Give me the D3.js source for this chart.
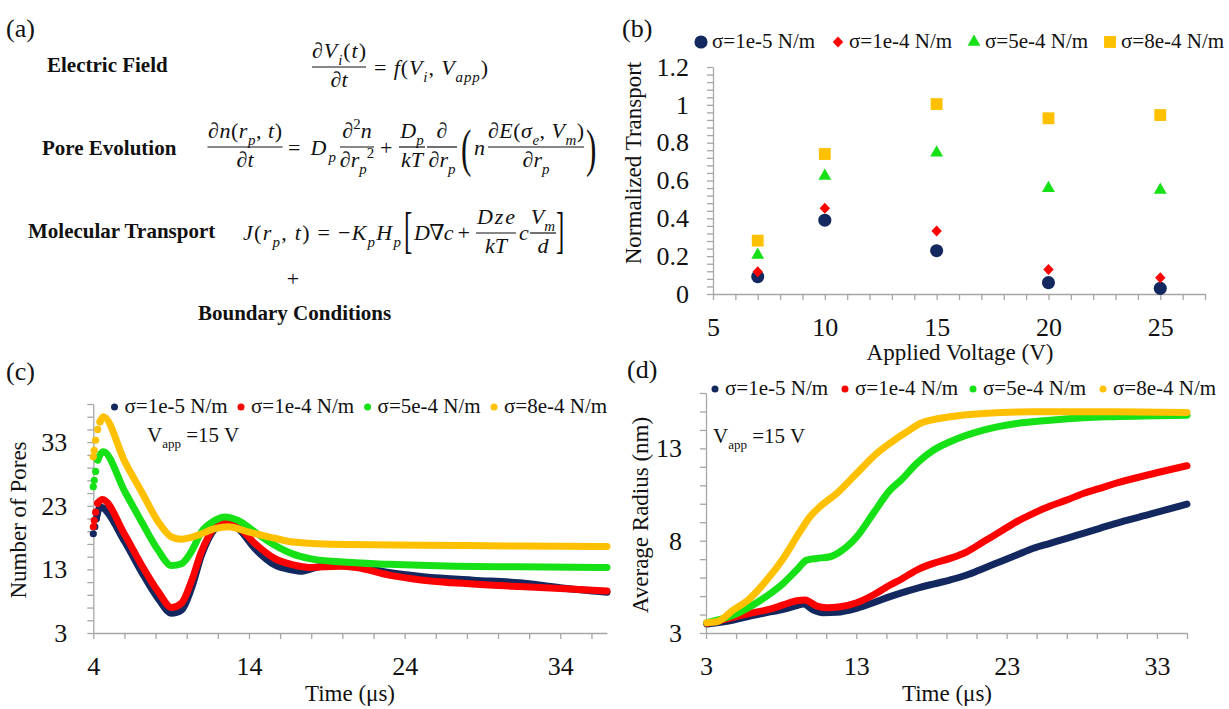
<!DOCTYPE html>
<html lang="en">
<head>
<meta charset="utf-8">
<title>Electroporation model</title>
<script src="https://cdnjs.cloudflare.com/ajax/libs/d3/7.8.5/d3.min.js"></script>
<style>
  body { margin: 0; background: #fff; }
  svg, svg text { font-family: "Liberation Serif", "DejaVu Serif", serif; fill: #111; }
  .axis path, .axis line { stroke: #a6a6a6; stroke-width: 1.3; }
  .axis text { font-size: 26px; fill: #111; }
</style>
</head>
<body>
<svg id="fig" width="1229" height="709" font-family="Liberation Serif, DejaVu Serif, serif"></svg>
<script>
// ---------- data ----------
const sigmaLabels = ["σ=1e-5 N/m", "σ=1e-4 N/m", "σ=5e-4 N/m", "σ=8e-4 N/m"];
const colors = ["#13285f", "#ff0000", "#16e016", "#ffc000"];

// (b) normalized transport vs applied voltage
const voltages = [7, 10, 15, 20, 25];
const transport1e5 = [0.092, 0.39, 0.229, 0.06, 0.03];
const transport1e4 = [0.118, 0.453, 0.333, 0.13, 0.086];
const transport5e4 = [0.206, 0.624, 0.747, 0.559, 0.55];
const transport8e4 = [0.282, 0.74, 1.004, 0.929, 0.946];
const bXTicks = [5, 10, 15, 20, 25];
const bYTicks = [0, 0.2, 0.4, 0.6, 0.8, 1, 1.2];

// (c) number of pores vs time [t (us), n]
const pores1e5 = [[4.0,18.6],[4.1,19.7],[4.2,21.0],[4.43,22.8],[6.03,17.3],[7.1,12.6],[8.17,8.4],[9.03,6.1],[9.67,6.6],[10.3,10.0],[10.95,15.2],[11.81,19.4],[12.35,20.2],[13.3,19.4],[14.37,16.3],[15.66,13.7],[16.8,12.9],[17.3,12.7],[18.3,13.3],[19.8,14.0],[20.9,13.5],[23.0,12.5],[25.2,11.85],[28.4,11.3],[31.4,10.9],[34,10.1],[37,9.4]];
const pores1e4 = [[4.0,19.7],[4.06,20.7],[4.15,22.0],[4.28,23.4],[4.58,24.0],[6.03,18.4],[7.1,13.7],[8.17,9.5],[9.03,7.0],[9.67,7.7],[10.3,11.1],[10.95,15.8],[11.81,19.7],[12.35,20.5],[13.3,19.7],[14.37,17.1],[15.66,14.7],[16.84,13.7],[17.9,13.3],[19.8,13.5],[20.9,13.3],[23.0,12.1],[25.2,11.3],[28.4,10.7],[31.4,10.3],[34,10.0],[37,9.6]];
const pores5e4 = [[4.0,26.0],[4.06,27.0],[4.15,28.4],[4.28,30.2],[4.64,31.5],[6.03,25.2],[7.1,20.5],[8.17,16.0],[9.03,13.6],[9.67,13.9],[10.3,15.8],[10.95,18.9],[11.81,20.7],[12.45,21.25],[13.3,20.7],[14.37,18.9],[15.66,16.8],[16.84,15.4],[17.9,14.7],[19.8,14.2],[23.0,13.8],[27.3,13.5],[31.4,13.4],[37,13.3]];
const pores8e4 = [[4.0,30.7],[4.06,31.7],[4.15,33.3],[4.28,35.0],[4.43,36.2],[4.64,37.0],[6.03,29.9],[7.1,25.2],[8.17,20.5],[9.03,18.1],[9.67,17.75],[10.74,18.4],[11.81,19.4],[12.67,19.7],[13.95,18.9],[15.66,17.9],[16.84,17.3],[20.26,16.9],[25.2,16.8],[31.4,16.66],[37,16.6]];
const poresLead = [3, 4, 4, 5];   // leading samples drawn as separate dots
const cXTicks = [4, 14, 24, 34];
const cYTicks = [3, 13, 23, 33];

// (d) average radius vs time [t (us), r (nm)]
const radius1e5 = [[3.05,3.49],[4.82,3.7],[5.93,3.92],[7.04,4.1],[8.14,4.28],[9.03,4.48],[9.48,4.57],[10.14,4.25],[10.8,4.1],[11.7,4.12],[13.03,4.34],[14.13,4.64],[15.24,4.97],[15.9,5.15],[17.02,5.42],[18.12,5.65],[19.23,5.87],[20.35,6.14],[21.45,6.5],[22.56,6.86],[23.67,7.22],[24.78,7.59],[25.89,7.86],[27.0,8.13],[28.1,8.4],[29.2,8.67],[30.1,8.9],[32.6,9.45],[35,9.98]];
const radius1e4 = [[3.05,3.52],[4.82,3.85],[5.93,4.07],[7.04,4.25],[8.14,4.52],[9.03,4.75],[9.59,4.79],[10.36,4.46],[11.03,4.37],[11.92,4.42],[13.03,4.64],[14.13,5.06],[15.24,5.6],[15.9,5.87],[17.02,6.41],[18.12,6.77],[19.23,7.04],[20.35,7.4],[21.45,7.94],[22.56,8.48],[23.67,9.03],[24.78,9.48],[25.89,9.88],[27.0,10.2],[28.1,10.56],[29.2,10.83],[30.1,11.07],[32.6,11.6],[35,12.06]];
const radius5e4 = [[3.05,3.56],[4.82,3.97],[5.93,4.43],[7.04,5.0],[8.14,5.69],[9.03,6.41],[9.7,6.95],[10.36,7.04],[11.25,7.13],[11.92,7.4],[13.03,8.21],[14.13,9.48],[15.24,10.74],[16.0,11.3],[17.02,12.19],[18.12,12.9],[19.23,13.36],[21.45,13.99],[23.67,14.35],[25.89,14.53],[28.1,14.66],[30.1,14.72],[35,14.8]];
const radius8e4 = [[3.05,3.56],[3.71,3.61],[4.82,4.25],[5.93,4.88],[7.04,5.87],[8.14,7.04],[9.25,8.49],[9.92,9.3],[10.58,9.84],[11.7,10.56],[13.03,11.65],[14.36,12.73],[15.69,13.54],[16.46,13.95],[17.24,14.35],[19.23,14.71],[21.45,14.89],[24.78,14.98],[30.1,14.98],[35,14.95]];
const dXTicks = [3, 13, 23, 33];
const dYTicks = [3, 8, 13];

const SERIF = "'Liberation Serif', 'DejaVu Serif', serif";
const svg = d3.select("#fig");

// ---------- helpers ----------
// tiny math text: _{..} subscript, ^{..} superscript, letters italic
function mathText(g, x, y, src, size, anchor, width) {
  const t = g.append("text").attr("x", x).attr("y", y).style("font-family", SERIF)
    .attr("font-size", size).attr("text-anchor", anchor || "start");
  if (width) t.attr("textLength", width).attr("lengthAdjust", "spacing");
  const toks = [];
  let i = 0;
  while (i < src.length) {
    const c = src[i];
    if ((c === "_" || c === "^") && src[i + 1] === "{") {
      const end = src.indexOf("}", i);
      toks.push({ s: src.slice(i + 2, end), lvl: c === "_" ? 1 : -1 });
      i = end + 1;
    } else {
      toks.push({ s: c, lvl: 0 });
      i++;
    }
  }
  let cur = 0;
  toks.forEach(tk => {
    for (const ch of tk.s) {
      const off = tk.lvl === 1 ? size * 0.3 : tk.lvl === -1 ? -size * 0.4 : 0;
      const sp = t.append("tspan").text(ch)
        .attr("font-size", tk.lvl ? size * 0.68 : size)
        .attr("font-style", /[A-Za-zσ]/.test(ch) ? "italic" : "normal");
      if (off !== cur) { sp.attr("dy", off - cur); cur = off; }
    }
  });
  return t;
}

function frac(g, cx, barY, w, num, den, numW) {
  g.append("line").attr("x1", cx - w / 2).attr("x2", cx + w / 2)
    .attr("y1", barY).attr("y2", barY).attr("stroke", "#111").attr("stroke-width", 1.2);
  mathText(g, cx, barY - 9, num, 22, "middle", numW);
  mathText(g, cx, barY + 20, den, 22, "middle");
}

function bigGlyph(g, ch, x, y, size, sx) {
  g.append("text").attr("transform", `translate(${x},${y}) scale(${sx},1)`)
    .style("font-family", SERIF).attr("font-size", size).text(ch);
}

function panelLabel(txt, x, y) {
  svg.append("text").attr("x", x).attr("y", y).style("font-family", SERIF).attr("font-size", 26).text(txt);
}

function axisTitle(txt, x, y, rotate) {
  svg.append("text").attr("text-anchor", "middle").attr("font-size", 23).style("font-family", SERIF)
    .attr("transform", `translate(${x},${y})` + (rotate ? " rotate(-90)" : ""))
    .text(txt);
}

function drawAxes(x, y, xMinor, xMajor, yMinor, yMajor, pad, fmt) {
  const fx = d => xMajor.includes(d) ? d : "";
  const fy = d => yMajor.includes(d) ? (fmt ? fmt(d) : d) : "";
  const gx = svg.append("g").attr("class", "axis").attr("transform", `translate(0,${y.range()[0]})`)
    .call(d3.axisBottom(x).tickValues(xMinor).tickFormat(fx).tickSize(6).tickSizeOuter(0).tickPadding(18));
  const gy = svg.append("g").attr("class", "axis").attr("transform", `translate(${x.range()[0]},0)`)
    .call(d3.axisLeft(y).tickValues(yMinor).tickFormat(fy).tickSize(6).tickSizeOuter(0).tickPadding(pad));
  [gx, gy].forEach(g => g.attr("font-family", null).attr("font-size", null)
    .selectAll("text").style("font-family", SERIF).style("font-size", "26px"));
}

function vapp(x, y) {
  const t = svg.append("text").attr("x", x).attr("y", y).style("font-family", SERIF).attr("font-size", 21);
  t.append("tspan").text("V");
  t.append("tspan").attr("font-size", 13).attr("dy", 6).text("app");
  t.append("tspan").attr("dy", -6).text(" =15 V");
}

function dotLegend(xs, y) {
  sigmaLabels.forEach((lab, i) => {
    svg.append("circle").attr("cx", xs[i] - 10).attr("cy", y - 6).attr("r", 3.5).attr("fill", colors[i]);
    svg.append("text").attr("x", xs[i]).attr("y", y).style("font-family", SERIF).attr("font-size", 21).text(lab);
  });
}

// ---------- (a) model equations ----------
const pa = svg.append("g");
panelLabel("(a)", 6, 37);
const head = (t, x, y) => pa.append("text").attr("x", x).attr("y", y).style("font-family", SERIF)
  .attr("font-size", 21).attr("font-weight", "bold").text(t);
head("Electric Field", 47, 72);
head("Pore Evolution", 42, 155);
head("Molecular Transport", 28, 238);
head("Boundary Conditions", 198, 320);
pa.append("text").attr("x", 293).attr("y", 286).style("font-family", SERIF).attr("font-size", 22).attr("text-anchor", "middle").text("+");

// electric field
frac(pa, 339, 67, 54, "∂V_{i}(t)", "∂t", 54);
mathText(pa, 374, 75, "= f(V_{i}, V_{app})", 22, "start", 114);

// pore evolution
frac(pa, 245, 147, 75, "∂n(r_{p}, t)", "∂t", 74);
mathText(pa, 288, 155, "= D_{p}", 22, "start", 48);
frac(pa, 357, 147, 34, "∂^{2}n", "∂r_{p}^{2}");
mathText(pa, 380, 155, "+", 22);
frac(pa, 412, 147, 26, "D_{p}", "kT");
frac(pa, 442, 147, 30, "∂", "∂r_{p}");
bigGlyph(pa, "(", 461, 166, 52, 0.6);
mathText(pa, 474, 155, "n", 22);
frac(pa, 536, 147, 96, "∂E(σ_{e}, V_{m})", "∂r_{p}", 96);
bigGlyph(pa, ")", 586, 166, 52, 0.6);

// molecular transport
mathText(pa, 243, 240, "J(r_{p}, t) = −K_{p}H_{p}", 22, "start", 158);
bigGlyph(pa, "[", 404, 247, 50, 0.5);
mathText(pa, 414, 240, "D∇c +", 22, "start", 56);
frac(pa, 496, 233, 40, "Dze", "kT", 38);
mathText(pa, 519, 240, "c", 22);
frac(pa, 543, 233, 26, "V_{m}", "d");
bigGlyph(pa, "]", 556, 247, 50, 0.5);

// ---------- (b) normalized transport ----------
panelLabel("(b)", 622, 37);
const xb = d3.scaleLinear().domain([5, 27]).range([713, 1205]);
const yb = d3.scaleLinear().domain([0, 1.2]).range([294, 67]);
drawAxes(xb, yb, d3.range(5, 27.5, 1), bXTicks,
  d3.range(0, 1.2001, 0.04).map(v => +v.toFixed(2)), bYTicks, 18, d => d3.format("~g")(d));
axisTitle("Normalized Transport", 641, 163, true);
axisTitle("Applied Voltage (V)", 960, 360, false);

const diamond = { draw(ctx, size) { const r = Math.sqrt(size) / 2; ctx.moveTo(0, -r); ctx.lineTo(r * 0.95, 0); ctx.lineTo(0, r); ctx.lineTo(-r * 0.95, 0); ctx.closePath(); } };
const bSymbols = [
  d3.symbol().type(d3.symbolCircle).size(135),
  d3.symbol().type(diamond).size(120),
  d3.symbol().type(d3.symbolTriangle).size(72),
  d3.symbol().type(d3.symbolSquare).size(140)
];
const bSeries = [transport1e5, transport1e4, transport5e4, transport8e4];
bSeries.forEach((vals, i) => {
  svg.append("g").selectAll("path").data(vals).join("path")
    .attr("transform", (d, j) => `translate(${xb(voltages[j])},${yb(d)})`)
    .attr("d", bSymbols[i]()).attr("fill", colors[i]);
});
// legend (b)
const bLegX = [712, 849, 985, 1121];
sigmaLabels.forEach((lab, i) => {
  svg.append("path").attr("transform", `translate(${bLegX[i] - 11},42)`).attr("d", bSymbols[i]()).attr("fill", colors[i]);
  svg.append("text").attr("x", bLegX[i]).attr("y", 48).style("font-family", SERIF).attr("font-size", 21).text(lab);
});

// ---------- (c) number of pores ----------
panelLabel("(c)", 6, 380);
const xc = d3.scaleLinear().domain([4, 37]).range([93.3, 607]);
const yc = d3.scaleLinear().domain([3, 39]).range([633, 404]);
drawAxes(xc, yc, d3.range(4, 37, 2), cXTicks, d3.range(3, 40, 2), cYTicks, 20);
axisTitle("Number of Pores", 26, 520, true);
axisTitle("Time (μs)", 350, 701, false);

const lineC = d3.line().x(d => xc(d[0])).y(d => yc(d[1])).curve(d3.curveMonotoneX);
[pores1e5, pores1e4, pores5e4, pores8e4].forEach((s, i) => {
  const lead = poresLead[i];
  svg.append("g").selectAll("circle").data(s.slice(0, lead)).join("circle")
    .attr("cx", d => xc(d[0])).attr("cy", d => yc(d[1])).attr("r", 3.6).attr("fill", colors[i]);
  svg.append("path").attr("d", lineC(s.slice(lead - 1))).attr("fill", "none")
    .attr("stroke", colors[i]).attr("stroke-width", 7).attr("stroke-linecap", "round").attr("stroke-linejoin", "round");
});
dotLegend([124.5, 251, 377.6, 504], 413);
vapp(147, 442);

// ---------- (d) average radius ----------
panelLabel("(d)", 627, 378);
const xd = d3.scaleLinear().domain([3, 35]).range([706, 1187]);
const yd = d3.scaleLinear().domain([3, 16]).range([633, 393]);
drawAxes(xd, yd, d3.range(3, 36, 2), dXTicks, d3.range(3, 17, 1), dYTicks, 18);
axisTitle("Average Radius (nm)", 648, 515, true);
axisTitle("Time (μs)", 947, 701, false);

const lineD = d3.line().x(d => xd(d[0])).y(d => yd(d[1])).curve(d3.curveMonotoneX);
[radius1e5, radius1e4, radius5e4, radius8e4].forEach((s, i) => {
  svg.append("path").attr("d", lineD(s)).attr("fill", "none")
    .attr("stroke", colors[i]).attr("stroke-width", 7).attr("stroke-linecap", "round").attr("stroke-linejoin", "round");
});
dotLegend([725, 855, 983, 1113], 395);
vapp(713, 443);
</script>
</body>
</html>
